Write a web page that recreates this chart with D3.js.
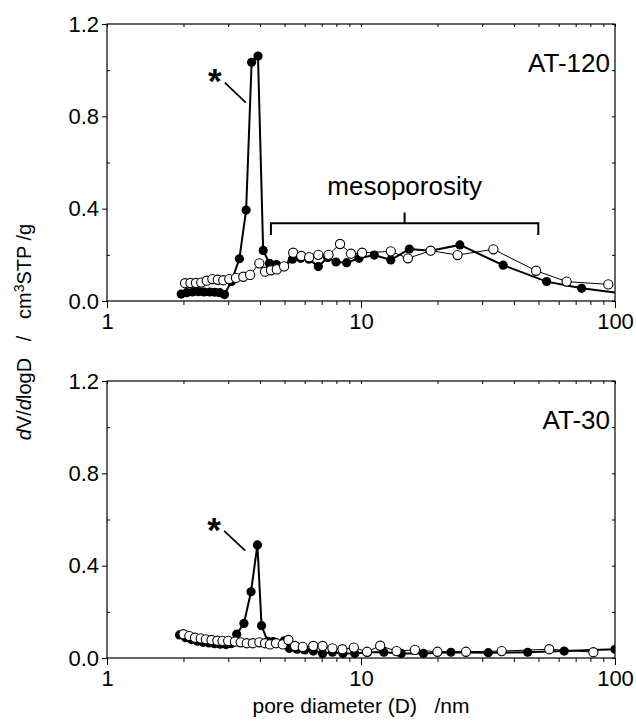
<!DOCTYPE html>
<html>
<head>
<meta charset="utf-8">
<script src="https://cdn.jsdelivr.net/npm/d3@7/dist/d3.min.js"></script>
<style>
  body { margin: 0; background: #fff; }
  svg { display: block; font-family: Arial, 'Liberation Sans', sans-serif; }
</style>
</head>
<body>
<div id="chart-area"></div>
<script>
// DATA
// =====

// AT-120, filled circles
var d120Filled = [1.96, 2.06, 2.17, 2.29, 2.41, 2.54, 2.66, 2.78, 2.90, 3.09, 3.32, 3.53, 3.71, 3.93, 4.12,
    4.36, 4.64, 4.98, 5.37, 5.79, 6.24, 6.79, 7.39, 7.97, 8.78, 9.82, 11.28, 13.1, 15.5, 18.8, 24.5, 36.3,
    53.8, 73.9, 106];
var v120Filled = [0.030, 0.036, 0.039, 0.040, 0.039, 0.039, 0.038, 0.036, 0.028, 0.085, 0.183, 0.394, 1.034,
    1.061, 0.219, 0.163, 0.158, 0.149, 0.181, 0.185, 0.181, 0.149, 0.189, 0.169, 0.166, 0.185, 0.199, 0.178,
    0.225, 0.218, 0.243, 0.155, 0.084, 0.055, 0.033];

// AT-120, open circles
var d120Open = [2.03, 2.13, 2.24, 2.35, 2.47, 2.60, 2.73, 2.87, 3.03, 3.22, 3.44, 3.66, 3.98, 4.19, 4.42,
    4.66, 4.98, 5.41, 5.82, 6.25, 6.79, 7.45, 8.27, 9.13, 10.1, 13.1, 15.3, 18.8, 24.0, 33.2, 48.9, 64.5, 94.1];
var v120Open = [0.077, 0.078, 0.078, 0.080, 0.088, 0.095, 0.092, 0.090, 0.095, 0.100, 0.105, 0.113, 0.163,
    0.127, 0.133, 0.137, 0.150, 0.209, 0.195, 0.190, 0.200, 0.200, 0.247, 0.205, 0.209, 0.215, 0.185, 0.218,
    0.199, 0.224, 0.131, 0.084, 0.072];

// AT-30, filled circles
var d30Filled = [1.93, 2.04, 2.15, 2.27, 2.39, 2.52, 2.65, 2.79, 2.94, 3.08, 3.24, 3.46, 3.69, 3.91, 4.06,
    4.29, 4.51, 4.98, 5.22, 5.6, 6.0, 6.49, 7.06, 7.72, 8.49, 9.45, 10.6, 12.3, 14.4, 17.6, 22.6, 31.7, 45.3,
    63.1, 100];
var v30Filled = [0.100, 0.088, 0.080, 0.073, 0.068, 0.065, 0.062, 0.060, 0.058, 0.062, 0.103, 0.150, 0.287,
    0.490, 0.140, 0.072, 0.071, 0.074, 0.042, 0.038, 0.035, 0.030, 0.020, 0.025, 0.020, 0.020, 0.025, 0.025,
    0.020, 0.020, 0.025, 0.023, 0.025, 0.030, 0.038];

// AT-30, open circles
var d30Open = [2.0, 2.11, 2.22, 2.34, 2.45, 2.58, 2.72, 2.85, 3.0, 3.19, 3.36, 3.55, 3.75, 3.98, 4.19, 4.38,
    4.63, 4.92, 5.18, 5.50, 5.9, 6.49, 7.06, 7.72, 8.45, 9.37, 10.56, 11.9, 13.8, 16.3, 20.0, 25.9, 35.8,
    55.1, 82.2];
var v30Open = [0.103, 0.095, 0.088, 0.085, 0.081, 0.078, 0.075, 0.074, 0.074, 0.071, 0.068, 0.064, 0.064,
    0.068, 0.064, 0.059, 0.064, 0.059, 0.078, 0.052, 0.048, 0.052, 0.052, 0.042, 0.038, 0.045, 0.027, 0.053,
    0.030, 0.035, 0.027, 0.027, 0.030, 0.038, 0.025];

// ticks
var xTicks = [1, 10, 100];
var xMinor = [2, 3, 4, 5, 6, 7, 8, 9, 20, 30, 40, 50, 60, 70, 80, 90];
var yTicks = [0, 0.4, 0.8, 1.2];
var yMinor = [0.2, 0.6, 1.0];

// annotations
var mesoRange = [4.42, 49.9];
var mesoLabel = 'mesoporosity';


// CANVAS
// =======

var W = 636, H = 725;
var left = 107, right = 615;
var panelH = 277;
var tickFont = '22px';
var panels = [
    { top: 24, name: 'AT-120', filled: [d120Filled, v120Filled], open: [d120Open, v120Open],
      star: [2.66, 0.988], lead: [[2.91, 0.946], [3.52, 0.859]], labelY: 1.03 },
    { top: 381, name: 'AT-30', filled: [d30Filled, v30Filled], open: [d30Open, v30Open],
      star: [2.64, 0.59], lead: [[2.89, 0.551], [3.50, 0.465]], labelY: 1.03 }
];

var svg = d3.select('#chart-area')
    .append('svg')
        .attr('width', W)
        .attr('height', H);

var x = d3.scaleLog()
    .domain([1, 100])
    .range([left, right]);

function zip(a, b) {
    return a.map((d, i) => [d, b[i]]);
}

panels.forEach((p, pi) => {
    var bottom = p.top + panelH;
    var y = d3.scaleLinear()
        .domain([0, 1.2])
        .range([bottom, p.top]);

    var g = svg.append('g');

    // clip
    g.append('clipPath')
        .attr('id', 'clip' + pi)
        .append('rect')
            .attr('x', left)
            .attr('y', p.top - 6)
            .attr('width', right - left)
            .attr('height', panelH + 6);

    // bottom axis
    g.append('g')
        .attr('transform', 'translate(0,' + bottom + ')')
        .call(d3.axisBottom(x).tickValues(xTicks).tickFormat(d3.format('d'))
            .tickSizeInner(7).tickSizeOuter(0).tickPadding(5))
        .call(a => a.select('.domain').remove())
        .selectAll('text')
            .attr('font-size', tickFont)
            .attr('font-family', 'Arial, Liberation Sans, sans-serif');
    g.append('g')
        .attr('transform', 'translate(0,' + bottom + ')')
        .call(d3.axisBottom(x).tickValues(xMinor).tickFormat('').tickSizeInner(4).tickSizeOuter(0))
        .call(a => a.select('.domain').remove());

    // top axis (ticks inward)
    g.append('g')
        .attr('transform', 'translate(0,' + p.top + ')')
        .call(d3.axisTop(x).tickValues(xTicks.concat(xMinor)).tickFormat('').tickSizeInner(-3).tickSizeOuter(0))
        .call(a => a.select('.domain').remove());

    // left axis
    g.append('g')
        .attr('transform', 'translate(' + left + ',0)')
        .call(d3.axisLeft(y).tickValues(yTicks).tickFormat(d3.format('.1f'))
            .tickSizeInner(5).tickSizeOuter(0).tickPadding(3))
        .call(a => a.select('.domain').remove())
        .selectAll('text')
            .attr('font-size', tickFont)
            .attr('font-family', 'Arial, Liberation Sans, sans-serif');
    g.append('g')
        .attr('transform', 'translate(' + left + ',0)')
        .call(d3.axisRight(y).tickValues(yMinor).tickFormat('').tickSizeInner(3).tickSizeOuter(0))
        .call(a => a.select('.domain').remove());

    // right axis (ticks inward)
    g.append('g')
        .attr('transform', 'translate(' + right + ',0)')
        .call(d3.axisLeft(y).tickValues(yTicks.concat(yMinor)).tickFormat('').tickSizeInner(3).tickSizeOuter(0))
        .call(a => a.select('.domain').remove());

    g.selectAll('.tick line').attr('stroke', '#000');

    // frame
    g.append('rect')
        .attr('x', left)
        .attr('y', p.top)
        .attr('width', right - left)
        .attr('height', panelH)
        .attr('fill', 'none')
        .attr('stroke', '#000')
        .attr('stroke-width', 1.2);

    var line = d3.line()
        .x(d => x(d[0]))
        .y(d => y(d[1]));

    var plot = g.append('g').attr('clip-path', 'url(#clip' + pi + ')');

    var filled = zip(p.filled[0], p.filled[1]);
    var open = zip(p.open[0], p.open[1]);

    plot.append('path')
        .datum(filled)
        .attr('d', line)
        .attr('fill', 'none')
        .attr('stroke', '#000')
        .attr('stroke-width', 2);

    plot.selectAll('.filled')
        .data(filled)
        .enter()
        .append('circle')
            .attr('class', 'filled')
            .attr('cx', d => x(d[0]))
            .attr('cy', d => y(d[1]))
            .attr('r', 4.6)
            .attr('fill', '#000');

    plot.append('path')
        .datum(open)
        .attr('d', line)
        .attr('fill', 'none')
        .attr('stroke', '#000')
        .attr('stroke-width', 1);

    plot.selectAll('.open')
        .data(open)
        .enter()
        .append('circle')
            .attr('class', 'open')
            .attr('cx', d => x(d[0]))
            .attr('cy', d => y(d[1]))
            .attr('r', 4.6)
            .attr('fill', '#fff')
            .attr('stroke', '#000')
            .attr('stroke-width', 1.1);

    // sample name
    g.append('text')
        .attr('x', right - 5)
        .attr('y', y(p.labelY) + 9)
        .attr('text-anchor', 'end')
        .attr('font-size', '26px')
        .text(p.name);

    // asterisk + leader
    g.append('text')
        .attr('x', x(p.star[0]))
        .attr('y', y(p.star[1]) + 20)
        .attr('text-anchor', 'middle')
        .attr('font-size', '35px')
        .attr('font-weight', 'bold')
        .text('*');
    g.append('line')
        .attr('x1', x(p.lead[0][0]))
        .attr('y1', y(p.lead[0][1]))
        .attr('x2', x(p.lead[1][0]))
        .attr('y2', y(p.lead[1][1]))
        .attr('stroke', '#000')
        .attr('stroke-width', 1.7);

    // mesoporosity bracket (top panel only)
    if (pi === 0) {
        var mid = Math.sqrt(mesoRange[0] * mesoRange[1]);
        g.append('path')
            .attr('d', 'M' + x(mesoRange[0]) + ',' + y(0.286) +
                'V' + y(0.337) + 'H' + x(mesoRange[1]) + 'V' + y(0.286) +
                'M' + x(mid) + ',' + y(0.337) + 'V' + y(0.383))
            .attr('fill', 'none')
            .attr('stroke', '#000')
            .attr('stroke-width', 2);
        g.append('text')
            .attr('x', x(mid))
            .attr('y', y(0.459))
            .attr('text-anchor', 'middle')
            .attr('font-size', '26px')
            .text(mesoLabel);
    }
});


// LABELS
// =======

// Y
var yLab = svg.append('text')
    .attr('transform', 'translate(31,332) rotate(-90)')
    .attr('text-anchor', 'middle')
    .attr('font-size', '20px');
yLab.append('tspan').attr('font-style', 'italic').text('d');
yLab.append('tspan').text('V/');
yLab.append('tspan').attr('font-style', 'italic').text('d');
yLab.append('tspan').text('logD\u00a0\u00a0\u00a0/\u00a0\u00a0\u00a0cm');
yLab.append('tspan').attr('font-size', '14px').attr('dy', '-7').text('3');
yLab.append('tspan').attr('dy', '7').text('STP /g');

// X
svg.append('text')
    .attr('x', 361)
    .attr('y', 713)
    .attr('text-anchor', 'middle')
    .attr('font-size', '21px')
    .text('pore diameter (D)\u00a0\u00a0\u00a0/nm');
</script>
</body>
</html>
